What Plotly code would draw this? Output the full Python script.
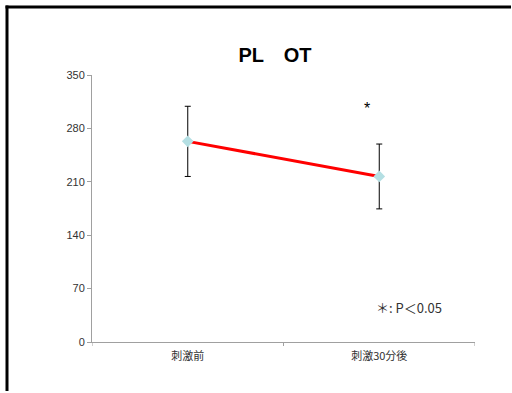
import plotly.graph_objects as go

categories = ["刺激前", "刺激30分後"]
means = [263, 217]
errors = [46, 42.5]
y_ticks = [0, 70, 140, 210, 280, 350]
title_text = "PL　OT"
star_text = "*"
star_value = 306
note_text = "＊: P＜0.05"
note_value = 45

W, H = 512, 393
L, R, T, B = 92, 37, 75, 51
pw, ph = W - L - R, H - T - B

def px_x(p):
    return (p - L) / pw

def px_y(p):
    return (H - B - p) / ph

fig = go.Figure()
fig.add_trace(go.Scatter(
    x=[0, 1], y=means,
    mode="lines+markers",
    line=dict(color="#ff0000", width=3),
    marker=dict(symbol="diamond", size=9, color="#b4dfe3"),
    error_y=dict(type="data", array=errors, color="#000000", thickness=1, width=3),
    showlegend=False,
    hoverinfo="skip",
))

fig.update_layout(
    width=W, height=H,
    margin=dict(l=L, r=R, t=T, b=B),
    paper_bgcolor="white", plot_bgcolor="white",
    title=dict(text="<b>" + title_text + "</b>", x=275 / W, xanchor="center",
               y=1 - 55 / H, yanchor="middle",
               font=dict(family="Liberation Sans, Arial", size=20, color="#000000")),
    xaxis=dict(
        range=[-0.5, 1.5],
        tickmode="array", tickvals=[0, 1], ticktext=categories,
        showgrid=False, zeroline=False,
        showline=True, linecolor="#a0a0a0", linewidth=1,
        ticks="", ticklabelstandoff=4,
        tickfont=dict(family="Noto Sans CJK JP", size=11, color="#333333"),
    ),
    yaxis=dict(
        range=[0, 350],
        tickmode="array", tickvals=y_ticks,
        showgrid=False, zeroline=False,
        showline=True, linecolor="#a0a0a0", linewidth=1,
        ticks="outside", ticklen=4, tickcolor="#a0a0a0",
        tickfont=dict(family="Liberation Sans, Arial", size=11, color="#333333"),
    ),
    font=dict(family="Liberation Sans, Arial"),
)

# category boundary ticks on x axis
for xv in [-0.5, 0.5, 1.5]:
    fig.add_shape(type="line", xref="x", yref="paper", x0=xv, x1=xv,
                  y0=0, y1=px_y(H - B + 4), line=dict(color="#a0a0a0", width=1))

fig.add_annotation(x=1, xanchor="center", y=star_value, yref="y", xref="x",
                   xshift=-12, text=star_text, showarrow=False,
                   font=dict(family="Liberation Sans, Arial", size=16, color="#000000"))
fig.add_annotation(x=px_x(374), xref="paper", xanchor="left", y=note_value, yref="y",
                   text=note_text, showarrow=False,
                   font=dict(family="Noto Sans CJK JP", size=13, color="#333333"))

# outer frame: top and left edges as filled bands, kept inside the page
fig.add_shape(type="rect", xref="paper", yref="paper",
              x0=px_x(5.5), x1=px_x(W - 1), y0=px_y(8.5), y1=px_y(5.5),
              fillcolor="#000000", line=dict(width=0), layer="above")
fig.add_shape(type="rect", xref="paper", yref="paper",
              x0=px_x(5.5), x1=px_x(8.5), y0=px_y(H - 2), y1=px_y(5.5),
              fillcolor="#000000", line=dict(width=0), layer="above")

fig.write_html("out.html")
